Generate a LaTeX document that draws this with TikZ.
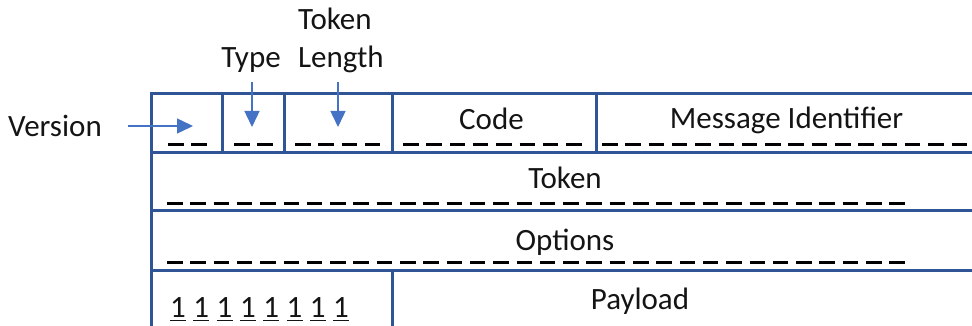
\documentclass[tikz,border=0pt]{standalone}
\usepackage{fontspec}
\setmainfont{Carlito}
\usetikzlibrary{arrows.meta}
\definecolor{boxblue}{RGB}{47,85,151}
\definecolor{arrblue}{RGB}{68,114,196}
\definecolor{txt}{RGB}{20,20,20}
\tikzset{
  frame/.style={draw=boxblue, line width=3pt},
  lbl/.style={inner sep=0pt, anchor=base, text=txt, font=\fontsize{31}{37}\selectfont},
  lblw/.style={lbl, anchor=base west},
  bits/.style={line width=3pt, black, dash pattern=on 15.5pt off 7.8pt},
  pointer/.style={arrblue, line width=1.4pt, -{Triangle[length=16pt,width=15pt]}},
  uline/.style={line width=1.8pt, txt}
}
\begin{document}
\begin{tikzpicture}[x=1pt,y=-1pt]
\useasboundingbox (0,0) rectangle (972,326);
\clip (0,0) rectangle (972,326);
% frame
\draw[frame] (151,94) -- (980,94);
\draw[frame] (151,152.3) -- (980,152.3);
\draw[frame] (151,210.7) -- (980,210.7);
\draw[frame] (151,270.7) -- (980,270.7);
\draw[frame] (151,92.5) -- (151,340);
\draw[frame] (222,94) -- (222,152.3);
\draw[frame] (284,94) -- (284,152.3);
\draw[frame] (392,94) -- (392,152.3);
\draw[frame] (596,94) -- (596,152.3);
\draw[frame] (392,270.7) -- (392,340);
% field labels
\node[lbl] (code) at (491.5,130) {Code};
\node[lbl] (msgid) at (786.5,129) {Message Identifier};
\node[lbl] (token) at (565,188) {Token};
\node[lbl] (options) at (565,250) {Options};
\node[lbl] (payload) at (640,309) {Payload};
% bit dashes
\draw[bits] (168,144.3) -- (168+2*23.3-7.8,144.3);
\draw[bits] (234,144.3) -- (234+2*23.3-7.8,144.3);
\draw[bits] (295,144.3) -- (295+4*23.3-7.8,144.3);
\draw[bits] (403,144.3) -- (403+8*23.3-7.8,144.3);
\draw[bits] (602,144.3) -- (602+16*23.3-7.8,144.3);
\draw[bits] (167,203) -- (167+32*23.3-7.8,203);
\draw[bits] (167,262.5) -- (167+32*23.3-7.8,262.5);
% ones
\foreach \i in {0,...,7} {
  \node[lbl] (one\i) at (178+\i*23.3,317) {1};
  \draw[uline] (one\i.base) ++(-8,3.5) -- ++(16,0);
}
% outside labels
\node[lblw] (version) at (8,137) {Version};
\node[lbl] (type) at (251,68) {Type};
\node[lblw] (tokenA) at (298,30) {Token};
\node[lblw] (tokenB) at (298,68) {Length};
% pointers
\coordinate (vS) at (128,126);
\coordinate (vE) at (193,126);
\coordinate (tS) at (252,82);
\coordinate (tE) at (252,127);
\coordinate (lS) at (338,82);
\coordinate (lE) at (338,127);
\draw[pointer] (vS) -- (vE);
\draw[pointer] (tS) -- (tE);
\draw[pointer] (lS) -- (lE);
\end{tikzpicture}
\end{document}
